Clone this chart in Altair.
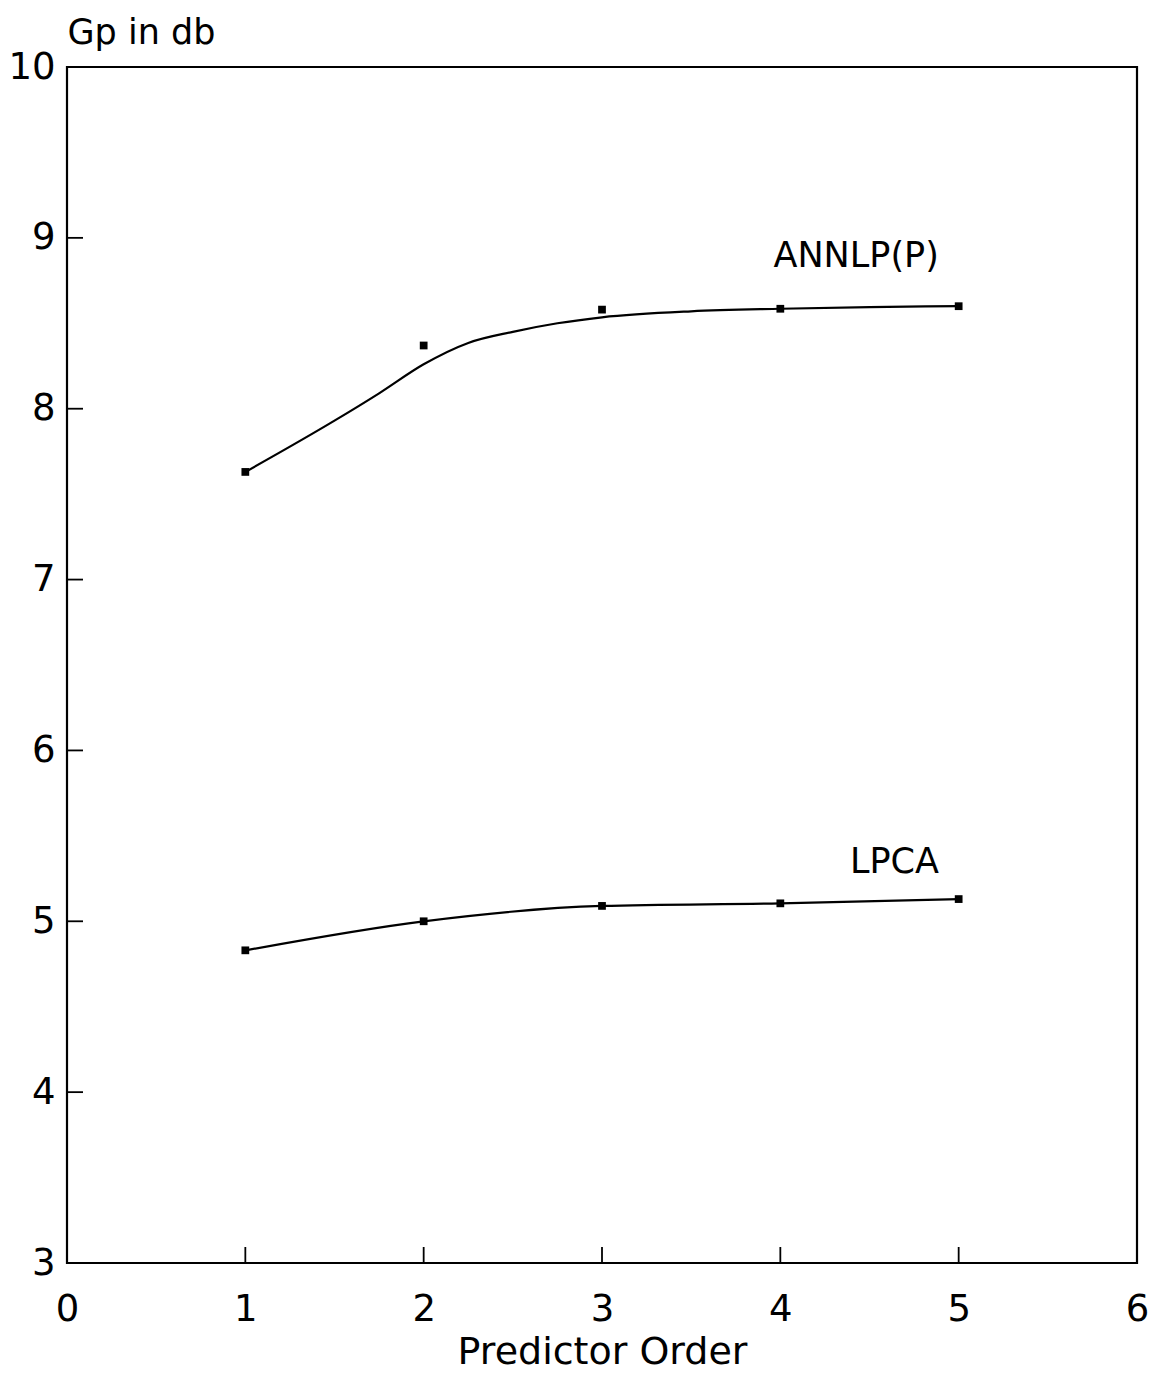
import altair as alt
import pandas as pd

# measured points
orders = [1, 2, 3, 4, 5]
annlp_pts = [7.63, 8.37, 8.58, 8.585, 8.60]
lpca_pts = [4.83, 5.00, 5.09, 5.105, 5.13]

# fitted curve for ANNLP(P)
annlp_curve_x = [1.0, 1.5, 1.75, 2.0, 2.25, 2.5, 2.75, 3.0, 3.5, 4.0, 4.5, 5.0]
annlp_curve_y = [7.63, 7.93, 8.09, 8.26, 8.385, 8.45, 8.50, 8.535, 8.57, 8.585, 8.595, 8.60]

# tick positions
x_ticks = [0, 1, 2, 3, 4, 5, 6]
y_ticks = [3, 4, 5, 6, 7, 8, 9, 10]
x_inner_ticks = [1, 2, 3, 4, 5]
y_inner_ticks = [4, 5, 6, 7, 8, 9]

labels = ["ANNLP(P)", "LPCA"]
label_x = [4.425, 4.64]
label_y = [8.894, 5.347]

FONT = "DejaVu Sans"
W, H = 1070, 1196

pts = pd.DataFrame({
    "x": orders * 2,
    "y": annlp_pts + lpca_pts,
    "s": ["ANNLP(P)"] * 5 + ["LPCA"] * 5,
})
curve = pd.DataFrame({
    "x": annlp_curve_x + orders,
    "y": annlp_curve_y + lpca_pts,
    "s": ["ANNLP(P)"] * len(annlp_curve_x) + ["LPCA"] * 5,
})
lab = pd.DataFrame({"t": labels, "x": label_x, "y": label_y})

xs = alt.Scale(domain=[0, 6], nice=False, zero=False)
ys = alt.Scale(domain=[3, 10], nice=False, zero=False)

xaxis = alt.Axis(values=x_ticks, format="d", ticks=False, labelPadding=28, labelFontSize=37,
                 labelFlush=False, labelFont=FONT, labelColor="black", grid=False, domain=False,
                 title="Predictor Order", titleFont=FONT, titleFontSize=38,
                 titleFontWeight="normal", titleColor="black", titlePadding=6)
yaxis = alt.Axis(values=y_ticks, format="d", ticks=False, labelPadding=12, labelFontSize=37,
                 labelFlush=False, labelFont=FONT, labelColor="black", grid=False, domain=False,
                 title="Gp in db", titleFont=FONT, titleFontSize=35,
                 titleFontWeight="normal", titleColor="black", titleAngle=0,
                 titleAlign="left", titleBaseline="alphabetic", titleX=0, titleY=-24)

line = alt.Chart(curve).mark_line(color="black", strokeWidth=2.2, interpolate="monotone").encode(
    x=alt.X("x:Q", scale=xs, axis=xaxis),
    y=alt.Y("y:Q", scale=ys, axis=yaxis),
    detail="s:N",
)
points = alt.Chart(pts).mark_square(color="black", size=60, opacity=1).encode(
    x=alt.X("x:Q", scale=xs),
    y=alt.Y("y:Q", scale=ys),
)
text = alt.Chart(lab).mark_text(font=FONT, fontSize=35, color="black", align="center",
                                baseline="middle").encode(
    x=alt.X("x:Q", scale=xs),
    y=alt.Y("y:Q", scale=ys),
    text="t:N",
)
xt = alt.Chart(pd.DataFrame({"x": x_inner_ticks})).mark_rule(color="black", strokeWidth=1.8).encode(
    x=alt.X("x:Q", scale=xs),
    y=alt.value(H),
    y2=alt.value(H - 16),
)
yt = alt.Chart(pd.DataFrame({"y": y_inner_ticks})).mark_rule(color="black", strokeWidth=1.8).encode(
    y=alt.Y("y:Q", scale=ys),
    x=alt.value(0),
    x2=alt.value(16),
)

chart = alt.layer(line, points, text, xt, yt).properties(
    width=W, height=H,
    autosize=alt.AutoSizeParams(type="none"),
    padding={"left": 67, "top": 67, "right": 16, "bottom": 123},
    background="white",
).configure_view(stroke="black", strokeWidth=2.2)

chart.save("out.html", embed_options={"renderer": "svg", "actions": False})
